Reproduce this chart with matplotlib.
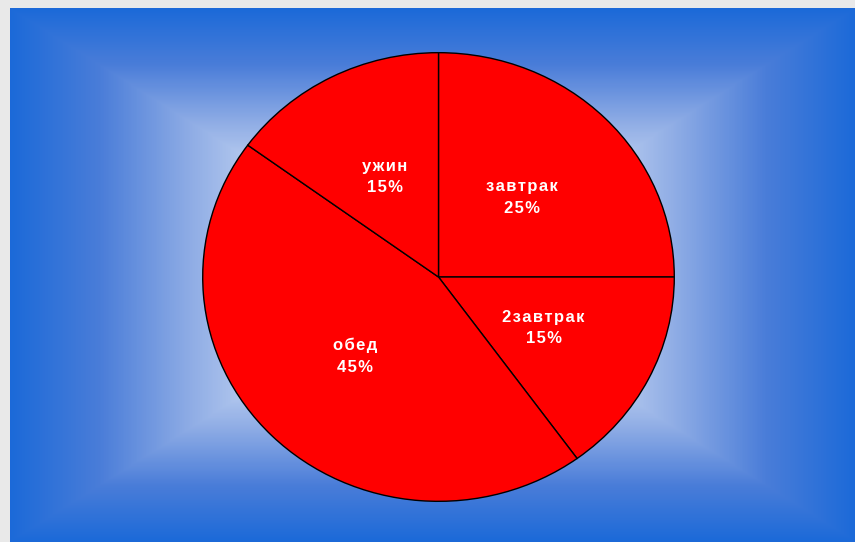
import matplotlib
matplotlib.use("Agg")
import matplotlib.pyplot as plt
import numpy as np
from matplotlib.colors import LinearSegmentedColormap

# data
meals = ["завтрак", "2завтрак", "обед", "ужин"]
shares = [25, 15, 45, 15]

W, H = 855, 542
fig = plt.figure(figsize=(W / 100, H / 100), dpi=100)
fig.patch.set_facecolor("#e9e9e9")

# rectangular (path) gradient background: pale centre -> blue edges
bg = fig.add_axes([10 / W, 0, (W - 10) / W, (H - 8) / H])
bg.axis("off")
gx = np.linspace(-1, 1, 845)
gy = np.linspace(-1, 1, 534)
GX, GY = np.meshgrid(gx, gy)
t = np.maximum(np.abs(GX), np.abs(GY))
cmap = LinearSegmentedColormap.from_list("bluebg", [
    (0.00, (0.93, 0.95, 0.99)),
    (0.35, (0.80, 0.86, 0.96)),
    (0.57, (0.565, 0.68, 0.90)),
    (0.79, (0.29, 0.49, 0.85)),
    (1.00, (0.11, 0.415, 0.85)),
])
bg.imshow(t, cmap=cmap, vmin=0, vmax=1, aspect="auto",
          extent=[-1, 1, -1, 1], interpolation="bilinear")


def spaced(s):
    # the original text is letter-spaced; hair spaces mimic that
    return "\u200a".join(s)


# pie axes (slightly wider than tall, as in the original)
cx, cy = 438.5, H - 277
rx, ry = 236.5, 225
ax = fig.add_axes([(cx - rx) / W, (cy - ry) / H, 2 * rx / W, 2 * ry / H])
labels = [spaced(m) + "\n" + spaced(f"{s}%") for m, s in zip(meals, shares)]
wedges, texts = ax.pie(shares, labels=labels, startangle=90, counterclock=False,
                       colors=["#ff0000"] * len(shares), labeldistance=0.5,
                       wedgeprops=dict(edgecolor="black", linewidth=1.0),
                       textprops=dict(color="white", fontsize=12, fontweight="bold",
                                      family=["Liberation Sans", "DejaVu Sans"],
                                      linespacing=1.55))
for tx in texts:
    tx.set_ha("center")
    tx.set_va("center")
    tx.set_multialignment("center")
ax.set_aspect("auto")
ax.set_xlim(-1.003, 1.003)
ax.set_ylim(-1.003, 1.003)
ax.axis("off")

fig.savefig("out.png", dpi=100, facecolor=fig.get_facecolor())
